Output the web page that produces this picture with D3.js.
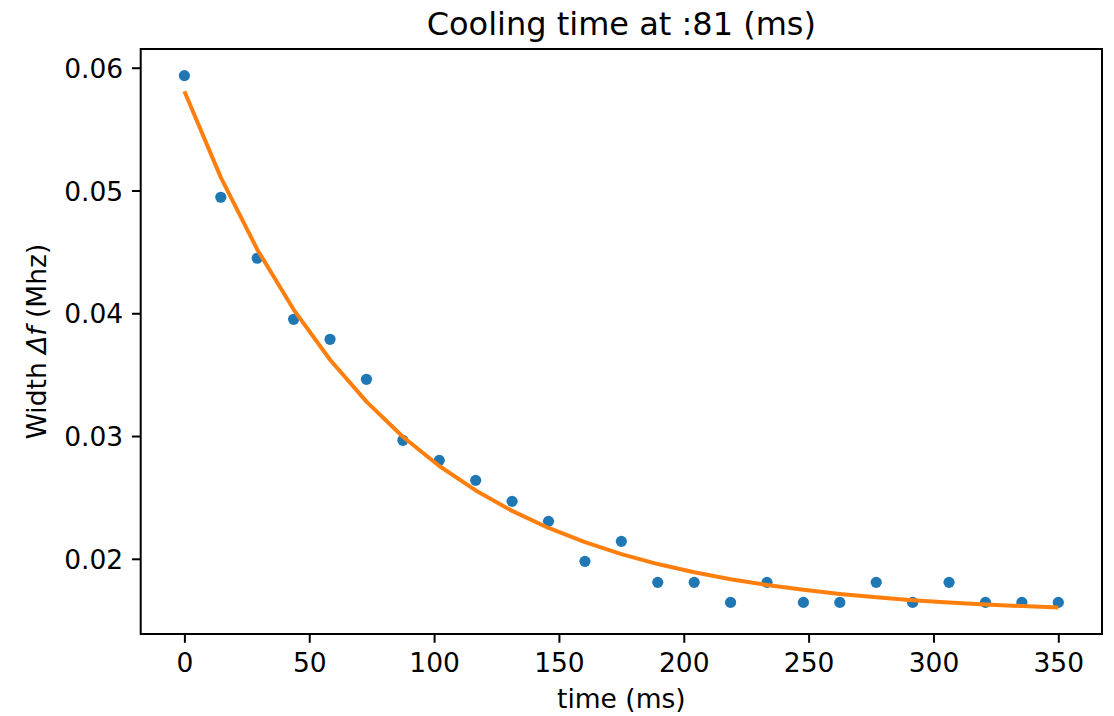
<!DOCTYPE html>
<html>
<head>
<meta charset="utf-8">
<script src="https://cdn.jsdelivr.net/npm/d3@7"></script>
<style>
  html, body { margin: 0; padding: 0; background: #fff; }
  svg { display: block; font-family: "DejaVu Sans", sans-serif; }
</style>
</head>
<body>
<svg id="chart" width="1114" height="716"></svg>
<script>
// ---- data ----
const timeMs = [0, 14.58, 29.17, 43.75, 58.33, 72.92, 87.5, 102.08, 116.67, 131.25,
  145.83, 160.42, 175, 189.58, 204.17, 218.75, 233.33, 247.92, 262.5, 277.08,
  291.67, 306.25, 320.83, 335.42, 350];
const widthMeasured = [0.05936, 0.04945, 0.04448, 0.03951, 0.03788, 0.03462, 0.02965,
  0.02802, 0.02639, 0.02468, 0.02305, 0.01979, 0.02142, 0.01808, 0.01808, 0.01645,
  0.01808, 0.01645, 0.01645, 0.01808, 0.01645, 0.01808, 0.01645, 0.01645, 0.01645];
const widthFit = [0.05809, 0.05107, 0.04520, 0.04030, 0.03621, 0.03280, 0.02994,
  0.02756, 0.02557, 0.02390, 0.02251, 0.02135, 0.02038, 0.01957, 0.01890, 0.01833,
  0.01786, 0.01747, 0.01714, 0.01686, 0.01663, 0.01644, 0.01628, 0.01615, 0.01604];
const xTicks = [0, 50, 100, 150, 200, 250, 300, 350];
const yTicks = [0.02, 0.03, 0.04, 0.05, 0.06];
const titleText = "Cooling time at :81 (ms)";
const xLabel = "time (ms)";

// ---- layout ----
const svg = d3.select("#chart");
const plot = { left: 140.7, right: 1102, top: 49, bottom: 634 };

function padded(ext) {
  const m = (ext[1] - ext[0]) * 0.05;
  return [ext[0] - m, ext[1] + m];
}
const x = d3.scaleLinear().domain(padded(d3.extent(timeMs))).range([plot.left, plot.right]);
const yExt = d3.extent(widthMeasured.concat(widthFit));
const y = d3.scaleLinear().domain(padded(yExt)).range([plot.bottom, plot.top]);

const tickFont = 26.5;

// points
svg.append("g").selectAll("circle")
  .data(timeMs.map((t, i) => [t, widthMeasured[i]]))
  .join("circle")
  .attr("cx", d => x(d[0]))
  .attr("cy", d => y(d[1]))
  .attr("r", 5.6)
  .attr("fill", "#1f77b4");

// fit line
svg.append("path")
  .datum(timeMs.map((t, i) => [t, widthFit[i]]))
  .attr("fill", "none")
  .attr("stroke", "#ff7f0e")
  .attr("stroke-width", 4)
  .attr("stroke-linejoin", "round")
  .attr("stroke-linecap", "butt")
  .attr("d", d3.line().x(d => x(d[0])).y(d => y(d[1])));

// axes
const xAxis = svg.append("g")
  .attr("transform", `translate(0,${plot.bottom})`)
  .call(d3.axisBottom(x).tickValues(xTicks).tickFormat(d3.format("d")).tickSize(8.75).tickPadding(8.75));
const yAxis = svg.append("g")
  .attr("transform", `translate(${plot.left},0)`)
  .call(d3.axisLeft(y).tickValues(yTicks).tickFormat(d3.format(".2f")).tickSize(8.75).tickPadding(8.75));

[xAxis, yAxis].forEach(g => {
  g.select(".domain").remove();
  g.selectAll(".tick line").attr("stroke", "#000").attr("stroke-width", 2);
  g.selectAll(".tick text")
    .attr("fill", "#000")
    .attr("font-family", "DejaVu Sans")
    .attr("font-size", tickFont);
});
xAxis.selectAll(".tick text").attr("dy", "0.76em");
yAxis.selectAll(".tick text").attr("dy", "0.36em");

// frame
svg.append("rect")
  .attr("x", plot.left).attr("y", plot.top)
  .attr("width", plot.right - plot.left).attr("height", plot.bottom - plot.top)
  .attr("fill", "none").attr("stroke", "#000").attr("stroke-width", 2);

// title
svg.append("text")
  .attr("x", (plot.left + plot.right) / 2).attr("y", 35)
  .attr("text-anchor", "middle")
  .attr("font-size", 32)
  .text(titleText);

// x label
svg.append("text")
  .attr("x", (plot.left + plot.right) / 2).attr("y", 708)
  .attr("text-anchor", "middle")
  .attr("font-size", tickFont)
  .text(xLabel);

// y label
const yl = svg.append("text")
  .attr("transform", `translate(46,${(plot.top + plot.bottom) / 2}) rotate(-90)`)
  .attr("text-anchor", "middle")
  .attr("font-size", tickFont);
yl.append("tspan").text("Width ");
yl.append("tspan").attr("font-style", "italic").text("Δf");
yl.append("tspan").text(" (Mhz)");
</script>
</body>
</html>
